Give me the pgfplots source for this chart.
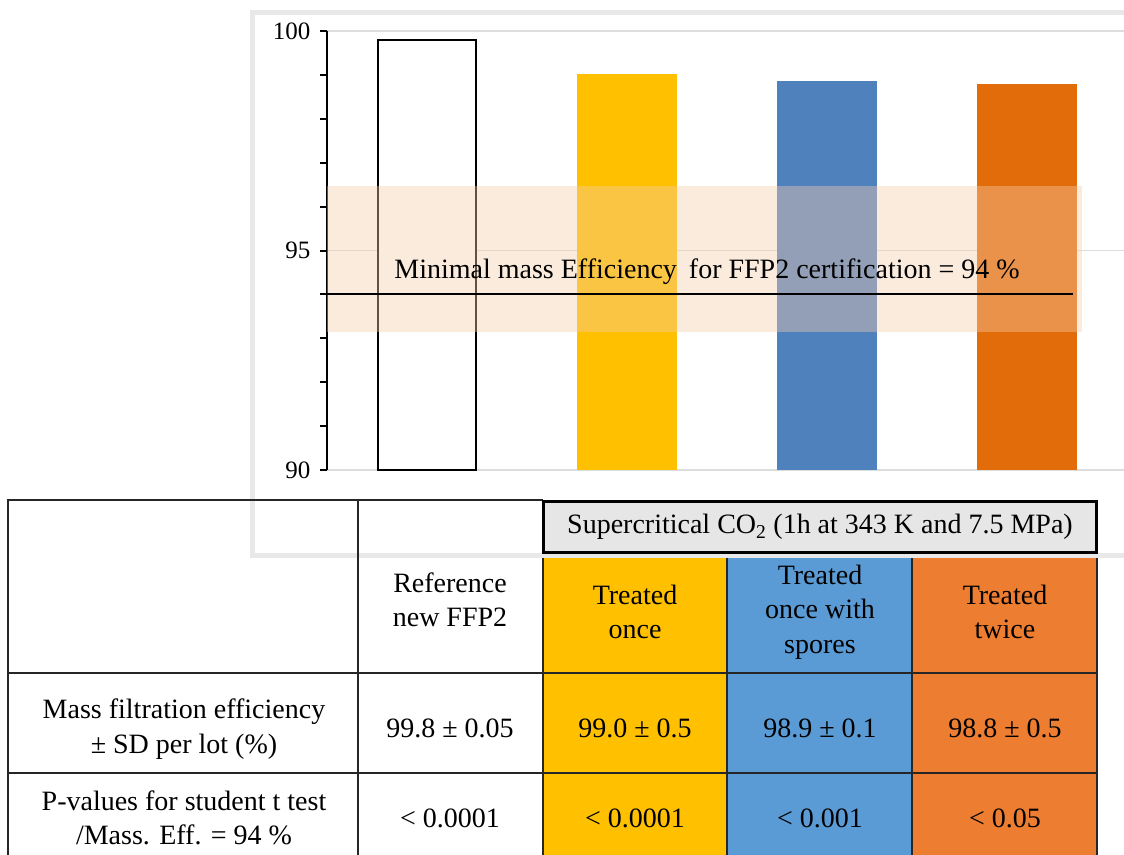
\documentclass[border=0pt]{standalone}
\usepackage{fontspec}
\setmainfont{Liberation Serif}
\usepackage{pgfplots}
\pgfplotsset{compat=1.18}

\definecolor{baryellow}{HTML}{FFC000}
\definecolor{barblue}{HTML}{4F81BD}
\definecolor{barorange}{HTML}{E36C0A}
\definecolor{tabyellow}{HTML}{FFC000}
\definecolor{tabblue}{HTML}{5B9BD5}
\definecolor{taborange}{HTML}{ED7D31}
\definecolor{bandcol}{RGB}{247,205,172}
\definecolor{boxgrey}{HTML}{E7E6E6}
\definecolor{panelgrey}{HTML}{E8E8E8}
\definecolor{gridgrey}{HTML}{DDDDDD}

\newcommand\tabfont{\fontsize{28}{34.5}\selectfont}

\begin{document}
\begin{tikzpicture}
% coloured cells of the table, below the chart panel
\begin{scope}[x=1pt,y=-1pt]
\fill[tabyellow] (543,558) rectangle (727,860);
\fill[tabblue] (727,558) rectangle (912,860);
\fill[taborange] (912,558) rectangle (1097,860);
% chart panel
\fill[white] (252.5,12.5) rectangle (1140,555.5);
\draw[panelgrey, line width=5pt] (252.5,12.5) rectangle (1140,555.5);
\end{scope}

\begin{axis}[
  at={(327pt,-470pt)}, anchor=south west,
  scale only axis, width=797pt, height=439pt,
  xmin=-0.5, xmax=3.485,
  ymin=90, ymax=100,
  axis x line=none,
  axis y line*=left,
  axis line style={line width=2pt, black},
  ytick={90,95,100},
  minor ytick={91,92,93,94,96,97,98,99},
  tick align=outside,
  major tick length=7pt, minor tick length=7pt,
  tick style={line width=2pt, black},
  ymajorgrids,
  grid style={line width=1.5pt, gridgrey},
  yticklabel style={font=\fontsize{25}{30}\selectfont, xshift=-6pt},
  /pgf/number format/assume math mode=true,
]
\addplot[ybar, bar shift=0pt, bar width=98pt, draw=black, line width=2pt, fill=white]
  coordinates {(0,99.8)};
\addplot[ybar, bar shift=0pt, bar width=100pt, draw=none, fill=baryellow]
  coordinates {(1,99.02)};
\addplot[ybar, bar shift=0pt, bar width=100pt, draw=none, fill=barblue]
  coordinates {(2,98.86)};
\addplot[ybar, bar shift=0pt, bar width=100pt, draw=none, fill=barorange]
  coordinates {(3,98.8)};
% certification band and threshold
\addplot[draw=none, fill=bandcol, fill opacity=0.4]
  coordinates {(-0.5,93.14) (3.275,93.14) (3.275,96.47) (-0.5,96.47)} -- cycle;
\addplot[black, line width=2pt] coordinates {(-0.5,94) (3.23,94)};
\node[font=\tabfont] at (axis cs:1.4,94.51)
  {Minimal mass Efficiency\hspace{12pt}for FFP2 certification = 94 \%};
\end{axis}

% table rules and text
\begin{scope}[x=1pt,y=-1pt]
\draw[line width=2pt, black!85] (8,500) -- (543,500)
  (8,673) -- (1097,673) (8,773) -- (1097,773)
  (8,499) -- (8,860) (358,499) -- (358,860)
  (543,558) -- (543,860) (727,558) -- (727,860)
  (912,558) -- (912,860) (1097,558) -- (1097,860);
\draw[line width=3pt, black, fill=boxgrey] (543,501) rectangle (1096,552);
\node[font=\tabfont] at (820,527)
  {Supercritical CO\textsubscript{2} (1h at 343 K and 7.5 MPa)};

\node[font=\tabfont, align=center] at (450,600) {Reference\\new FFP2};
\node[font=\tabfont, align=center] at (635,612) {Treated\\once};
\node[font=\tabfont, align=center] at (820,612) {Treated\\once with\\spores};
\node[font=\tabfont, align=center] at (1005,612) {Treated\\twice};

\node[font=\tabfont, align=center] at (184,729) {Mass filtration efficiency\\± SD per lot (\%)};
\node[font=\tabfont] at (450,728) {99.8 ± 0.05};
\node[font=\tabfont] at (635,728) {99.0 ± 0.5};
\node[font=\tabfont] at (820,728) {98.9 ± 0.1};
\node[font=\tabfont] at (1005,728) {98.8 ± 0.5};

\node[font=\tabfont, align=center] at (184,818) {P-values for student t test\\/Mass. Eff. = 94 \%};
\node[font=\tabfont] at (450,818) {< 0.0001};
\node[font=\tabfont] at (635,818) {< 0.0001};
\node[font=\tabfont] at (820,818) {< 0.001};
\node[font=\tabfont] at (1005,818) {< 0.05};
\end{scope}

\pgfresetboundingbox
\path[use as bounding box] (0pt,0pt) rectangle (1124pt,-854pt);
\end{tikzpicture}
\end{document}
